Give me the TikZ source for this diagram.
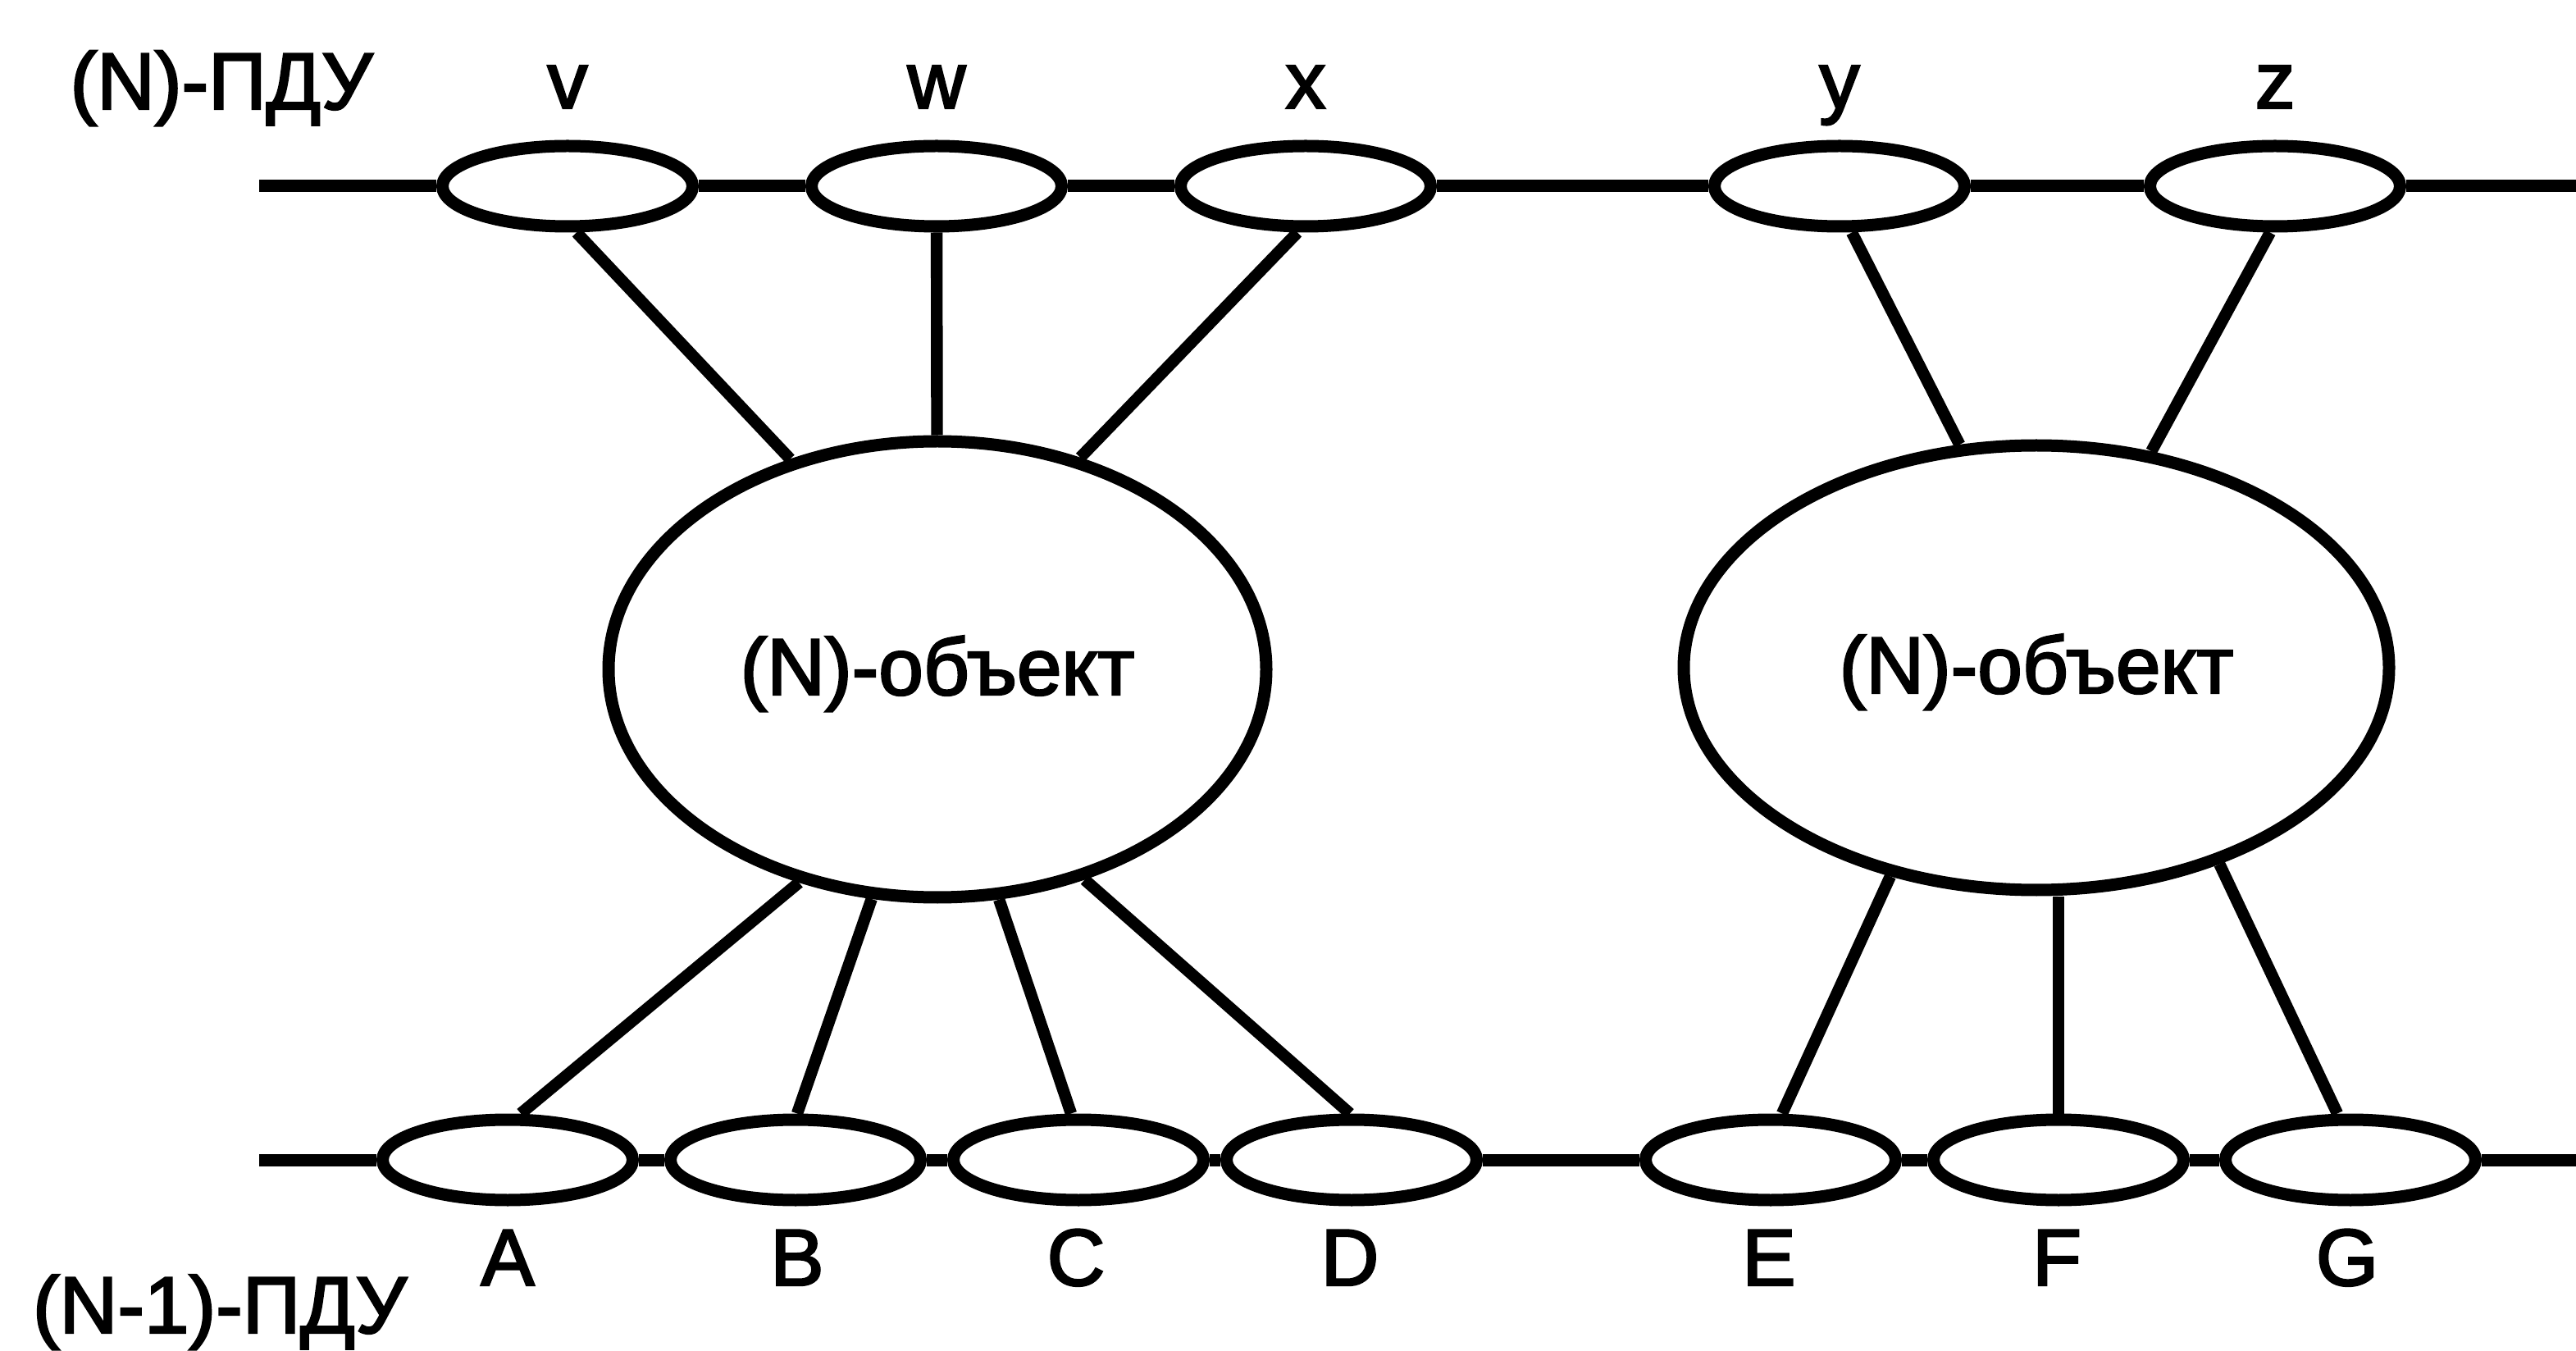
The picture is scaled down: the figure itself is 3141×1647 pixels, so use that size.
\documentclass[tikz,border=0pt]{standalone}
\usepackage{fontspec}
\setmainfont[FakeBold=2.5]{Liberation Sans}
\usetikzlibrary{shapes.geometric}
\begin{document}
\begin{tikzpicture}[x=0.25pt,y=-0.25pt,
  pdu/.style={ellipse,draw,line width=3.75pt,minimum width=76.25pt,minimum height=24.5pt,inner sep=0pt,fill=white},
  ent/.style={ellipse,draw,line width=3.75pt,inner sep=0pt,text height=15.5pt,text depth=0pt,font=\fontsize{24.5}{29}\selectfont},
  lbl/.style={anchor=base,inner sep=0pt,font=\fontsize{24.5}{29}\selectfont},
  link/.style={line width=3.6pt}]
\useasboundingbox (0,0) rectangle (3141,1647);
% top PDUs
\node[pdu] (pv) at (692,227) {};
\node[pdu] (pw) at (1142,227) {};
\node[pdu] (px) at (1592,227) {};
\node[pdu] (py) at (2243,227) {};
\node[pdu] (pz) at (2774,227) {};
% bottom PDUs
\node[pdu] (pA) at (619,1414) {};
\node[pdu] (pB) at (970,1414) {};
\node[pdu] (pC) at (1315,1414) {};
\node[pdu] (pD) at (1648,1414) {};
\node[pdu] (pE) at (2159,1414) {};
\node[pdu] (pF) at (2510,1414) {};
\node[pdu] (pG) at (2866,1414) {};
% line ends
\coordinate (tl) at (316,227);
\coordinate (tr) at (3141,227);
\coordinate (bl) at (316,1414);
\coordinate (br) at (3141,1414);
\draw[line width=3.75pt] (tl) -- (pv) -- (pw) -- (px) -- (py) -- (pz) -- (tr);
\draw[line width=3.75pt] (bl) -- (pA) -- (pB) -- (pC) -- (pD) -- (pE) -- (pF) -- (pG) -- (br);
% entities
\node[ent,minimum width=200.5pt,minimum height=139pt] (o1) at (1143,816) {(N)-объект};
\node[ent,minimum width=215pt,minimum height=135.5pt] (o2) at (2483,814) {(N)-объект};
% connectors
\draw[link] ([xshift=2.75pt]pv.south) -- (o1.125);
\draw[link] (pw) -- (o1);
\draw[link] ([xshift=-2.5pt]px.south) -- (o1.56);
\draw[link] ([xshift=3.75pt]py.south) -- (o2.109);
\draw[link] ([xshift=-1.5pt]pz.south) -- (o2.62);
\draw[link] ([xshift=4pt]pA.north) -- (o1.237);
\draw[link] ([xshift=0.5pt]pB.north) -- (o1.254);
\draw[link] ([xshift=-2.25pt]pC.north) -- (o1.285);
\draw[link] ([xshift=-0.5pt]pD.north) -- (o1.305);
\draw[link] ([xshift=3.5pt]pE.north) -- (o2.235);
\draw[link] (pF.north) -- (pF.north |- o2.south);
\draw[link] ([xshift=-4pt]pG.north) -- (o2.313);
% labels
\node[lbl] (hN) at (270,133) {(N)-ПДУ};
\node[lbl] (hN1) at (268,1625) {(N-1)-ПДУ};
\node[lbl] (lv) at (692,132) {v};
\node[lbl] (lw) at (1142,132) {w};
\node[lbl] (lx) at (1592,132) {x};
\node[lbl] (ly) at (2243,132) {y};
\node[lbl] (lz) at (2774,132) {z};
\node[lbl] (lA) at (619,1567) {A};
\node[lbl] (lB) at (972,1567) {B};
\node[lbl] (lC) at (1312,1567) {C};
\node[lbl] (lD) at (1646,1567) {D};
\node[lbl] (lE) at (2157,1567) {E};
\node[lbl] (lF) at (2508,1567) {F};
\node[lbl] (lG) at (2862,1567) {G};
\end{tikzpicture}
\end{document}
